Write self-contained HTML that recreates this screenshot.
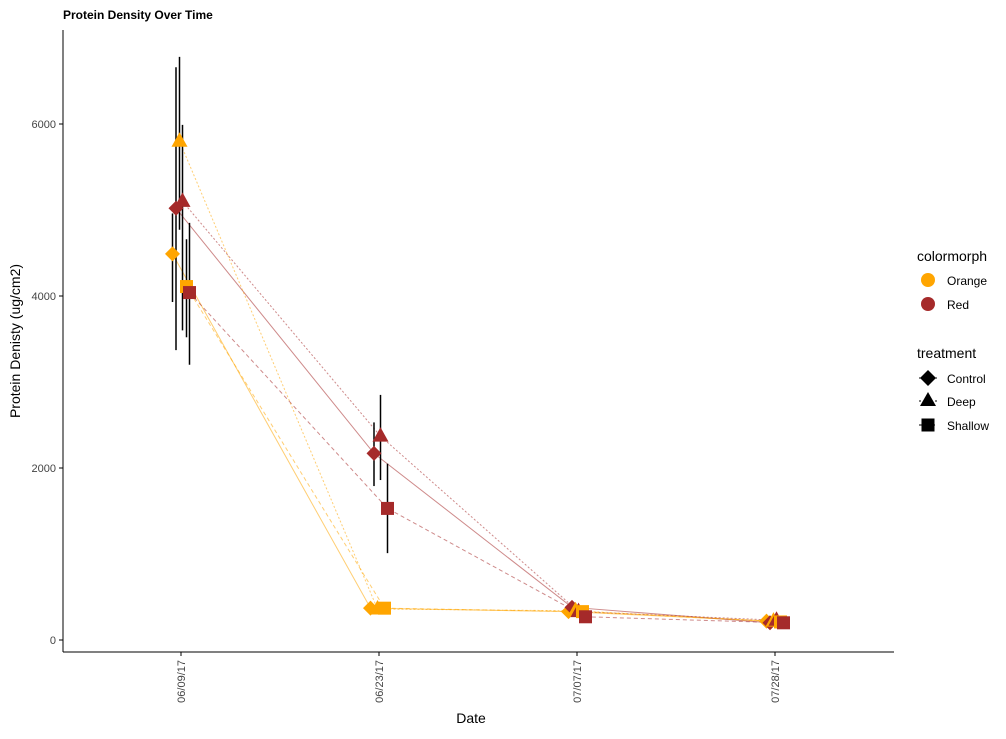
<!DOCTYPE html>
<html><head><meta charset="utf-8"><style>
body{margin:0;background:#fff;font-family:"Liberation Sans",Arial,sans-serif;}
svg text{font-family:"Liberation Sans",Arial,sans-serif;}
</style></head><body>
<svg id="chart" width="1006" height="734" xmlns="http://www.w3.org/2000/svg">
<rect width="1006" height="734" fill="#fff"/>
<text x="63" y="19" font-size="12" font-weight="bold" fill="#000">Protein Density Over Time</text>
<g id="plot"></g>
<line x1="63" y1="30" x2="63" y2="652" stroke="#000" stroke-width="1"/>
<line x1="63" y1="652" x2="894" y2="652" stroke="#000" stroke-width="1"/>
<text transform="translate(20,341) rotate(-90)" text-anchor="middle" font-size="14" fill="#000">Protein Denisty (ug/cm2)</text>
<text x="471" y="723" text-anchor="middle" font-size="14" fill="#000">Date</text>
<g>
<text x="917" y="261" font-size="14" fill="#000">colormorph</text>
<g><circle cx="928" cy="280" r="7" fill="#FFA500"/><text x="947" y="285" font-size="12">Orange</text></g>
<g><circle cx="928" cy="304" r="7" fill="#A52A2A"/><text x="947" y="309" font-size="12">Red</text></g>
<text x="917" y="358" font-size="14" fill="#000">treatment</text>
<g><line x1="919" y1="378" x2="937" y2="378" stroke="#000"/><polygon points="928,370 936,378 928,386 920,378" fill="#000"/><text x="947" y="383" font-size="12">Control</text></g>
<g><line x1="919" y1="401" x2="937" y2="401" stroke="#000" stroke-dasharray="2,2"/><polygon points="928,392 936,406 920,406" fill="#000"/><text x="947" y="406" font-size="12">Deep</text></g>
<g><line x1="919" y1="425" x2="937" y2="425" stroke="#000" stroke-dasharray="4,2"/><rect x="921.5" y="418.5" width="13" height="13" fill="#000"/><text x="947" y="430" font-size="12">Shallow</text></g>
</g>
</svg>
<script>
const dates = ["06/09/17","06/23/17","07/07/17","07/28/17"];
const yTicks = [0,2000,4000,6000];
const seriesNames = ["Orange-Control","Red-Control","Orange-Deep","Red-Deep","Orange-Shallow","Red-Shallow"];
const meanOC = [4490,370,330,220];
const meanRC = [5020,2170,380,200];
const meanOD = [5800,360,340,220];
const meanRD = [5100,2370,330,230];
const meanOS = [4110,370,330,210];
const meanRS = [4040,1530,270,200];
const loOC = [3930,320,290,190];
const hiOC = [4960,420,370,250];
const loRC = [3370,1790,340,170];
const hiRC = [6660,2530,420,230];
const loOD = [4770,310,300,190];
const hiOD = [6780,410,380,250];
const loRD = [3600,1860,290,200];
const hiRD = [5990,2850,370,260];
const loOS = [3520,320,290,180];
const hiOS = [4660,420,370,240];
const loRS = [3200,1010,230,170];
const hiRS = [4850,2050,310,230];

const NS="http://www.w3.org/2000/svg";
const svg=document.getElementById('chart');
const plot=document.getElementById('plot');
const yScale=v=>640-v*0.086;
const xScale=i=>181+i*198;
const means=[meanOC,meanRC,meanOD,meanRD,meanOS,meanRS];
const los=[loOC,loRC,loOD,loRD,loOS,loRS];
const his=[hiOC,hiRC,hiOD,hiRD,hiOS,hiRS];
const colors=["#FFA500","#A52A2A","#FFA500","#A52A2A","#FFA500","#A52A2A"];
const shapes=["diamond","diamond","triangle","triangle","square","square"];
const dashes=[null,null,"2,2","2,2","4,3","4,3"];
const offs=[-8.5,-5,-1.5,1.5,5.5,8.5];
function mk(tag,attrs){const e=document.createElementNS(NS,tag);for(const k in attrs)e.setAttribute(k,attrs[k]);return e;}
yTicks.forEach(t=>{
  const y=yScale(t);
  const l=mk('line',{x1:59,x2:63,y1:y,y2:y,stroke:'#000'});
  
  
  svg.appendChild(l);
  const tx=mk('text',{x:56,y:y+4,'text-anchor':'end','font-size':11,fill:'#444'});
  tx.textContent=t;
  
  
  svg.appendChild(tx);
});
dates.forEach((d,i)=>{
  const x=xScale(i);
  const l=mk('line',{x1:x,x2:x,y1:652,y2:656,stroke:'#000'});
  
  
  svg.appendChild(l);
  const tx=mk('text',{transform:`translate(${x+4},660) rotate(-90)`,'text-anchor':'end','font-size':11,fill:'#444'});
  tx.textContent=d;
  
  
  svg.appendChild(tx);
});
means.forEach((m,s)=>{
  const pts=m.map((v,i)=>(xScale(i)+offs[s])+','+yScale(v)).join(' ');
  const pl=mk('polyline',{points:pts,fill:'none',stroke:colors[s],'stroke-opacity':0.55,'stroke-width':1});
  if(dashes[s])pl.setAttribute('stroke-dasharray',dashes[s]);
  
  
  plot.appendChild(pl);
});
means.forEach((m,s)=>{
  m.forEach((v,i)=>{
    const x=xScale(i)+offs[s];
    const l=mk('line',{x1:x,x2:x,y1:yScale(his[s][i]),y2:yScale(los[s][i]),stroke:'#000','stroke-width':1.5});
    
    
    plot.appendChild(l);
  });
});
means.forEach((m,s)=>{
  m.forEach((v,i)=>{
    const x=xScale(i)+offs[s], y=yScale(v);
    let e;
    if(shapes[s]==='diamond')e=mk('polygon',{points:`${x},${y-7.5} ${x+7.5},${y} ${x},${y+7.5} ${x-7.5},${y}`});
    else if(shapes[s]==='triangle')e=mk('polygon',{points:`${x},${y-9} ${x+8},${y+5.5} ${x-8},${y+5.5}`});
    else e=mk('rect',{x:x-6.5,y:y-6.5,width:13,height:13});
    e.setAttribute('fill',colors[s]);
    
    
    plot.appendChild(e);
  });
});
</script>
</body></html>
